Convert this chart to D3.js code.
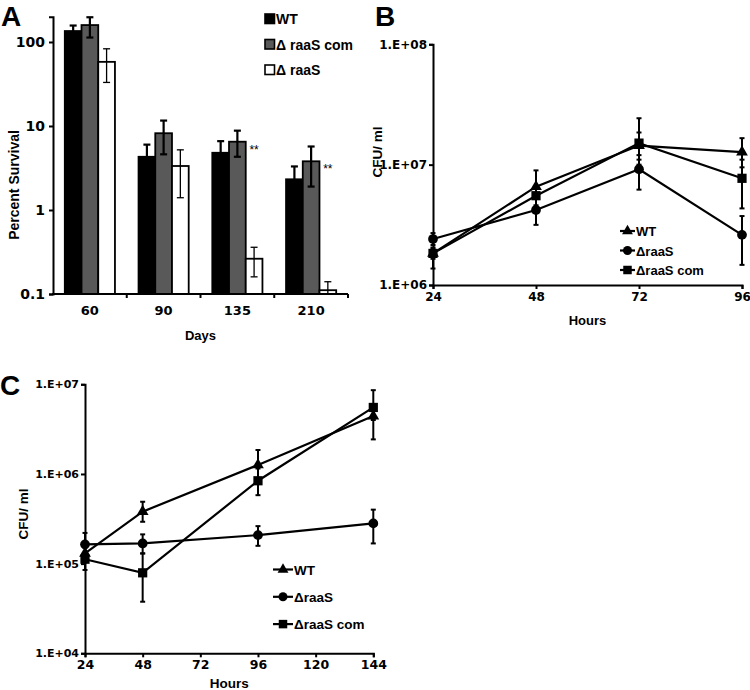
<!DOCTYPE html>
<html><head><meta charset="utf-8">
<script src="https://cdn.jsdelivr.net/npm/d3@7"></script>
<style>
body{margin:0;background:#fff;}
svg text{fill:#000;}
</style></head>
<body>
<svg id="fig" width="750" height="690"></svg>
<script>
// ---------- Panel A data ----------
const daysA = ["60", "90", "135", "210"];
const seriesA = ["WT", "Δ raaS com", "Δ raaS"];
const wtA = [135, 4.3, 4.8, 2.32];
const wtAHi = [157, 6.0, 6.6, 3.3];
const wtALo = [115, 2.4, 2.9, 1.3];
const comA = [159, 8.2, 6.5, 3.8];
const comAHi = [197, 11.6, 8.8, 5.7];
const comALo = [113, 4.6, 4.3, 1.9];
const raaSA = [58, 3.34, 0.263, 0.111];
const raaSAHi = [83, 5.2, 0.36, 0.14];
const raaSALo = [33, 1.4, 0.16, 0.1];
const ticksA = [0.1, 1, 10, 100];
const starDays = ["135", "210"];

// ---------- Panel B data ----------
const hoursB = [24, 48, 72, 96];
const wtB = [1.83e6, 6.56e6, 1.44e7, 1.27e7];
const wtBHi = [2.0e6, 8.96e6, 1.85e7, 1.66e7];
const wtBLo = [1.65e6, 4.6e6, 1.1e7, 9.5e6];
const raaSB = [2.41e6, 4.2e6, 9.16e6, 2.61e6];
const raaSBHi = [2.7e6, 5.2e6, 1.2e7, 3.74e6];
const raaSBLo = [2.15e6, 3.16e6, 6.2e6, 1.47e6];
const comB = [1.83e6, 5.52e6, 1.51e7, 7.7e6];
const comBHi = [2.05e6, 6.4e6, 2.43e7, 1.1e7];
const comBLo = [1.37e6, 4.0e6, 1.0e7, 4.33e6];
const ticksBY = [1e6, 1e7, 1e8];
const ticksBX = [24, 48, 72, 96];

// ---------- Panel C data ----------
const hoursC = [24, 48, 96, 144];
const wtC = [1.3e5, 3.8e5, 1.26e6, 4.43e6];
const wtCHi = [1.5e5, 4.9e5, 1.85e6, 6.0e6];
const wtCLo = [1.1e5, 2.93e5, 9.0e5, 2.43e6];
const raaSC = [1.64e5, 1.68e5, 2.08e5, 2.81e5];
const raaSCHi = [2.2e5, 2.12e5, 2.62e5, 4.0e5];
const raaSCLo = [1.3e5, 1.3e5, 1.58e5, 1.68e5];
const comC = [1.12e5, 7.9e4, 8.4e5, 5.52e6];
const comCHi = [1.25e5, 1.3e5, 1.15e6, 8.6e6];
const comCLo = [8.5e4, 3.76e4, 5.8e5, 4.0e6];
const ticksCY = [1e4, 1e5, 1e6, 1e7];
const ticksCX = [24, 48, 72, 96, 120, 144];

const lineNames = ["WT", "ΔraaS", "ΔraaS com"];

const svg = d3.select("#fig");
const ARIAL = "'Liberation Sans', Arial, sans-serif";
const DEJA = "'DejaVu Sans', sans-serif";
const fmtE = d => "1.E+" + String(Math.round(Math.log10(d))).padStart(2, "0");

function styleAxis(g, fs, fam) {
  g.select(".domain").attr("stroke", "#000").attr("stroke-width", 2);
  g.selectAll(".tick line").attr("stroke", "#000").attr("stroke-width", 2);
  g.selectAll(".tick text").attr("font-family", fam).attr("font-weight", "bold")
    .attr("font-size", fs).attr("fill", "#000");
}

// ================= Panel A =================
(function () {
  const L = 53, R = 348, T = 16.7, B = 294;
  const y = d3.scaleLog().domain([0.1, 200]).range([B, T]);
  const x0 = d3.scaleBand().domain(daysA).range([L, R]).paddingInner(0.32).paddingOuter(0.16);
  const x1 = d3.scaleBand().domain(seriesA).range([0, x0.bandwidth()]);
  const fills = ["#000000", "#595959", "#ffffff"];
  const means = [wtA, comA, raaSA], his = [wtAHi, comAHi, raaSAHi], los = [wtALo, comALo, raaSALo];

  const g = svg.append("g");
  seriesA.forEach((s, si) => {
    daysA.forEach((d, di) => {
      const bx = x0(d) + x1(s);
      g.append("rect").attr("x", bx).attr("y", y(means[si][di]))
        .attr("width", x1.bandwidth()).attr("height", B - y(means[si][di]))
        .attr("fill", fills[si]).attr("stroke", "#000").attr("stroke-width", 1.8);
    });
  });
  // error bars
  seriesA.forEach((s, si) => {
    const sw = si === 2 ? 1.3 : 2.2;
    const col = "#000";
    daysA.forEach((d, di) => {
      const cx = x0(d) + x1(s) + x1.bandwidth() / 2;
      const yh = y(his[si][di]), yl = y(Math.max(los[si][di], 0.1));
      g.append("line").attr("x1", cx).attr("x2", cx).attr("y1", yh).attr("y2", yl)
        .attr("stroke", col).attr("stroke-width", sw);
      [yh, yl].forEach(yy => g.append("line").attr("x1", cx - 3.5).attr("x2", cx + 3.5)
        .attr("y1", yy).attr("y2", yy).attr("stroke", col).attr("stroke-width", sw));
    });
  });
  // stars
  starDays.forEach((d, i) => {
    const cx = x0(d) + x1("Δ raaS") + x1.bandwidth() / 2;
    const yy = y(comA[daysA.indexOf(d)]) + 8;
    g.append("text").attr("x", cx).attr("y", yy + 4).attr("text-anchor", "middle")
      .attr("font-family", ARIAL).attr("font-size", 12).text("**");
  });
  // axes
  const ya = g.append("g").attr("transform", `translate(${L},0)`)
    .call(d3.axisLeft(y).tickValues(ticksA).tickFormat(d => String(d)).tickSize(4).tickPadding(4));
  styleAxis(ya, 14, DEJA);
  const xa = g.append("g").attr("transform", `translate(0,${B})`);
  xa.append("line").attr("x1", L - 1).attr("x2", R).attr("y1", 0).attr("y2", 0)
    .attr("stroke", "#000").attr("stroke-width", 2);
  daysA.forEach((d, i) => {
    const bx = x0(d) + x0.bandwidth() + x0.step() * x0.paddingInner() / 2;
    xa.append("line").attr("x1", bx).attr("x2", bx).attr("y1", 0).attr("y2", 4)
      .attr("stroke", "#000").attr("stroke-width", 2);
    xa.append("text").attr("x", x0(d) + x0.bandwidth() / 2).attr("y", 21)
      .attr("text-anchor", "middle").attr("font-family", DEJA).attr("font-weight", "bold")
      .attr("font-size", 13).text(d);
  });
  g.append("text").attr("x", (L + R) / 2).attr("y", 340).attr("text-anchor", "middle")
    .attr("font-family", ARIAL).attr("font-weight", "bold").attr("font-size", 13).text("Days");
  g.append("text").attr("transform", "translate(19,185) rotate(-90)").attr("text-anchor", "middle")
    .attr("font-family", ARIAL).attr("font-weight", "bold").attr("font-size", 14).text("Percent Survival");
  // legend
  seriesA.forEach((s, i) => {
    const ly = 19 + i * 25.5;
    g.append("rect").attr("x", 265).attr("y", ly - 5).attr("width", 9.5).attr("height", 9.5)
      .attr("fill", fills[i]).attr("stroke", "#000").attr("stroke-width", 1.6);
    g.append("text").attr("x", 276).attr("y", ly + 5).attr("font-family", ARIAL)
      .attr("font-weight", "bold").attr("font-size", 14).text(s);
  });
  g.append("text").attr("x", 1).attr("y", 26).attr("font-family", ARIAL).attr("font-weight", "bold")
    .attr("font-size", 28).text("A");
})();

// ================= line panels =================
function linePanel(opt) {
  const g = svg.append("g");
  const x = d3.scaleLinear().domain(opt.xDom).range([opt.L, opt.R]);
  const y = d3.scaleLog().domain(opt.yDom).range([opt.B, opt.T]);
  const syms = [d3.symbolTriangle, d3.symbolCircle, d3.symbolSquare];
  const sizes = [60, 75, 85];
  const line = d3.line().x(d => x(d[0])).y(d => y(d[1]));
  opt.series.forEach((s, si) => {
    opt.hours.forEach((h, i) => {
      const cx = x(h), yh = y(s.hi[i]), yl = y(s.lo[i]);
      g.append("line").attr("x1", cx).attr("x2", cx).attr("y1", yh).attr("y2", yl)
        .attr("stroke", "#000").attr("stroke-width", 2);
      [yh, yl].forEach(yy => g.append("line").attr("x1", cx - 2.5).attr("x2", cx + 2.5)
        .attr("y1", yy).attr("y2", yy).attr("stroke", "#000").attr("stroke-width", 2));
    });
  });
  const ya = g.append("g").attr("transform", `translate(${opt.L},0)`)
    .call(d3.axisLeft(y).tickValues(opt.yTicks).tickFormat(fmtE).tickSize(4).tickPadding(2));
  styleAxis(ya, opt.yFs, DEJA);
  const xa = g.append("g").attr("transform", `translate(0,${opt.B})`)
    .call(d3.axisBottom(x).tickValues(opt.xTicks).tickFormat(d3.format("d")).tickSize(4).tickPadding(3));
  styleAxis(xa, opt.xFs, DEJA);
  opt.series.forEach((s, si) => {
    const pts = opt.hours.map((h, i) => [h, s.v[i]]);
    g.append("path").attr("d", line(pts)).attr("fill", "none").attr("stroke", "#000").attr("stroke-width", 2.2);
    pts.forEach(p => g.append("path").attr("d", d3.symbol(syms[si], sizes[si])())
      .attr("transform", `translate(${x(p[0])},${y(p[1])})`).attr("fill", "#000"));
  });
  lineNames.forEach((n, i) => {
    const ly = opt.legY + i * opt.legGap;
    g.append("line").attr("x1", opt.legX).attr("x2", opt.legX + opt.legW).attr("y1", ly).attr("y2", ly)
      .attr("stroke", "#000").attr("stroke-width", 2.2);
    g.append("path").attr("d", d3.symbol(syms[i], sizes[i] * 0.85)())
      .attr("transform", `translate(${opt.legX + opt.legW / 2},${ly})`).attr("fill", "#000");
    g.append("text").attr("x", opt.legX + opt.legW + 1).attr("y", ly + 5).attr("font-family", ARIAL)
      .attr("font-weight", "bold").attr("font-size", opt.legFs).text(n);
  });
  g.append("text").attr("x", (opt.L + opt.R) / 2).attr("y", opt.xTitleY).attr("text-anchor", "middle")
    .attr("font-family", ARIAL).attr("font-weight", "bold").attr("font-size", opt.titleFs).text("Hours");
  g.append("text").attr("transform", `translate(${opt.yTitleX},${opt.yTitleY}) rotate(-90)`).attr("text-anchor", "middle")
    .attr("font-family", ARIAL).attr("font-weight", "bold").attr("font-size", opt.yTitleFs).text("CFU/ ml");
  g.append("text").attr("x", opt.letterX).attr("y", opt.letterY).attr("font-family", ARIAL)
    .attr("font-weight", "bold").attr("font-size", 28).text(opt.letter);
}

linePanel({
  L: 433, R: 742, T: 44.3, B: 285, xDom: [24, 96], yDom: [1e6, 1e8],
  hours: hoursB, xTicks: ticksBX, yTicks: ticksBY, yFs: 12, xFs: 12,
  series: [{v: wtB, hi: wtBHi, lo: wtBLo}, {v: raaSB, hi: raaSBHi, lo: raaSBLo}, {v: comB, hi: comBHi, lo: comBLo}],
  legX: 620, legW: 15, legY: 231, legGap: 19.5, legFs: 13,
  xTitleY: 325, titleFs: 13, yTitleX: 382, yTitleY: 152, yTitleFs: 13.5,
  letter: "B", letterX: 375, letterY: 26
});

linePanel({
  L: 85, R: 373.3, T: 384.3, B: 653.3, xDom: [24, 144], yDom: [1e4, 1e7],
  hours: hoursC, xTicks: ticksCX, yTicks: ticksCY, yFs: 11, xFs: 12.5,
  series: [{v: wtC, hi: wtCHi, lo: wtCLo}, {v: raaSC, hi: raaSCHi, lo: raaSCLo}, {v: comC, hi: comCHi, lo: comCLo}],
  legX: 273, legW: 20, legY: 569.5, legGap: 27.3, legFs: 13.5,
  xTitleY: 688, titleFs: 13.5, yTitleX: 28, yTitleY: 514, yTitleFs: 13.5,
  letter: "C", letterX: 0, letterY: 395
});
</script>
</body></html>
